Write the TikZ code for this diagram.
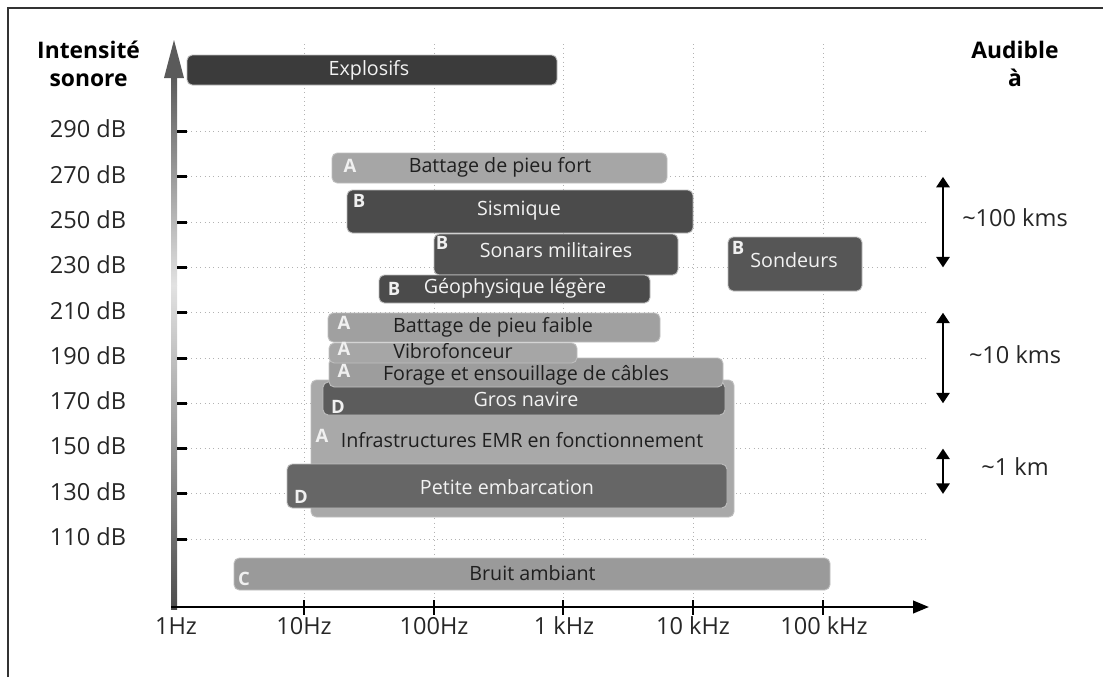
\documentclass[tikz,border=0pt]{standalone}
\usepackage{fontspec}
\setmainfont{Open Sans}
\usetikzlibrary{arrows.meta}
\definecolor{explosif}{HTML}{3B3B3B}
\definecolor{sombreA}{HTML}{4B4B4B}
\definecolor{sombreB}{HTML}{505050}
\definecolor{sombreC}{HTML}{565656}
\definecolor{navire}{HTML}{5C5C5C}
\definecolor{embarc}{HTML}{666666}
\definecolor{clairA}{HTML}{A6A6A6}
\definecolor{clairB}{HTML}{A0A0A0}
\definecolor{clairC}{HTML}{9D9D9D}
\definecolor{emr}{HTML}{A9A9A9}
\definecolor{bruit}{HTML}{9A9A9A}
\definecolor{axe}{HTML}{5A5A5A}
\definecolor{axeclair}{HTML}{E2E2E2}

\begin{document}
\begin{tikzpicture}[x=0.02cm, y=-0.02cm,
    barre/.style={rounded corners=3pt, draw=white!75!black, line width=0.5pt},
    texte/.style={font=\fontsize{11.2}{13}\selectfont, inner sep=0pt, text height=0.72em, text depth=0.1em},
    clair/.style={texte, text=black!88},
    sombre/.style={texte, text=white!95!black},
    lettre/.style={font=\bfseries\fontsize{10.5}{12}\selectfont, inner sep=0pt, text height=0.72em, text depth=0pt, text=white!94!black},
    echelle/.style={font=\fontsize{13.4}{16}\selectfont, inner sep=0pt, text height=0.72em, text depth=0pt, text=black!85},
    titre/.style={font=\bfseries\fontsize{13}{16}\selectfont, inner sep=0pt, align=center},
    grille/.style={gray!60, dotted, line width=0.5pt},
    fleche/.style={line width=1.6pt, {Triangle[length=6pt,width=7.5pt]}-{Triangle[length=6pt,width=7.5pt]}}]
    \useasboundingbox (0,0) rectangle (1103,677);
    \draw [black!80, line width=1.1pt] (8,677) -- (8,8) -- (1103,8);

    \draw [grille] (187,131.5) -- (928,131.5);
    \draw [grille] (187,176.8) -- (928,176.8);
    \draw [grille] (187,222.1) -- (928,222.1);
    \draw [grille] (187,267.4) -- (928,267.4);
    \draw [grille] (187,312.7) -- (928,312.7);
    \draw [grille] (187,358.0) -- (928,358.0);
    \draw [grille] (187,403.3) -- (928,403.3);
    \draw [grille] (187,448.6) -- (928,448.6);
    \draw [grille] (187,493.9) -- (928,493.9);
    \draw [grille] (187,539.2) -- (928,539.2);
    \draw [grille] (304,44) -- (304,607);
    \draw [grille] (434,44) -- (434,607);
    \draw [grille] (563,44) -- (563,607);
    \draw [grille] (693,44) -- (693,607);
    \draw [grille] (823,44) -- (823,607);

    \draw [barre, fill=explosif] (187,55) rectangle (557,85);
    \node [sombre] (explosifs) at (369,70) {Explosifs};
    \draw [barre, fill=clairA] (332,153) rectangle (667,183);
    \node [lettre] (tagfort) at (350,166) {A};
    \node [clair] (pieufort) at (500,167) {Battage de pieu fort};
    \draw [barre, fill=sombreA] (347,190) rectangle (693,233);
    \node [lettre] (tagsism) at (359,201) {B};
    \node [sombre] (sismique) at (519,210.5) {Sismique};
    \draw [barre, fill=sombreB] (434,234) rectangle (678,275);
    \node [lettre] (tagsonar) at (442,243) {B};
    \node [sombre] (sonars) at (556,252) {Sonars militaires};
    \draw [barre, fill=sombreA] (379,275) rectangle (650,303);
    \node [lettre] (taggeo) at (394,289) {B};
    \node [sombre] (geophysique) at (515,288) {Géophysique légère};
    \draw [barre, fill=sombreC] (728,237) rectangle (862,291);
    \node [lettre] (tagsond) at (738,248) {B};
    \node [sombre] (sondeurs) at (794,262) {Sondeurs};

    \draw [barre, fill=emr] (311,380) rectangle (734,517);
    \node [lettre] (tagemr) at (322,436) {A};
    \node [clair] (emrtexte) at (522,442) {Infrastructures EMR en fonctionnement};
    \draw [barre, fill=navire] (323,382) rectangle (725,415);
    \node [lettre] (tagnavire) at (338,407) {D};
    \node [sombre] (grosnavire) at (526,401) {Gros navire};
    \draw [barre, fill=embarc] (287,464) rectangle (727,508);
    \node [lettre] (tagpetite) at (301,497) {D};
    \node [sombre] (petite) at (507,489.5) {Petite embarcation};
    \draw [barre, fill=clairB] (328,313) rectangle (660,342);
    \node [lettre] (tagfaible) at (344,323) {A};
    \node [clair] (pieufaible) at (493,327) {Battage de pieu faible};
    \draw [barre, fill=clairC] (329,358) rectangle (723,387);
    \node [lettre] (tagforage) at (344,371) {A};
    \node [clair] (forage) at (526,375) {Forage et ensouillage de câbles};
    \draw [barre, fill=clairA] (329,343) rectangle (577,363);
    \node [lettre] (tagvibro) at (344,349) {A};
    \node [clair] (vibro) at (453,353.5) {Vibrofonceur};
    \draw [barre, fill=bruit] (234,558) rectangle (830,590);
    \node [lettre] (tagbruit) at (244,579) {C};
    \node [clair] (bruitambiant) at (532.5,575) {Bruit ambiant};

    \coordinate (origine) at (171,607);
    \coordinate (sommet) at (174,40);
    \coordinate (xfin) at (929,607);
    \shade [top color=axe, bottom color=axeclair] (171,76) rectangle (177,285);
    \shade [top color=axeclair, bottom color=axe!85!black] (171,285) rectangle (177,609);
    \fill [axe] (164,78) -- (sommet) -- (184,78) -- cycle;
    \draw [black, line width=1.5pt, -{Triangle[length=9pt,width=7pt]}] (origine) -- (xfin);

    \draw [line width=1.7pt] (177,131.5) -- (187,131.5);
    \draw [line width=1.7pt] (177,176.8) -- (187,176.8);
    \draw [line width=1.7pt] (177,222.1) -- (187,222.1);
    \draw [line width=1.7pt] (177,267.4) -- (187,267.4);
    \draw [line width=1.7pt] (177,312.7) -- (187,312.7);
    \draw [line width=1.7pt] (177,358.0) -- (187,358.0);
    \draw [line width=1.7pt] (177,403.3) -- (187,403.3);
    \draw [line width=1.7pt] (177,448.6) -- (187,448.6);
    \draw [line width=1.7pt] (177,493.9) -- (187,493.9);
    \draw [line width=1.7pt] (177,539.2) -- (187,539.2);
    \draw [line width=1.1pt] (304,600) -- (304,615);
    \draw [line width=1.1pt] (434,600) -- (434,615);
    \draw [line width=1.1pt] (563,600) -- (563,615);
    \draw [line width=1.1pt] (693,600) -- (693,615);
    \draw [line width=1.1pt] (823,600) -- (823,615);

    \node [echelle, anchor=east] (db290) at (126.5,131.5) {290 dB};
    \node [echelle, anchor=east] (db270) at (126.5,176.8) {270 dB};
    \node [echelle, anchor=east] (db250) at (126.5,222.1) {250 dB};
    \node [echelle, anchor=east] (db230) at (126.5,267.4) {230 dB};
    \node [echelle, anchor=east] (db210) at (126.5,312.7) {210 dB};
    \node [echelle, anchor=east] (db190) at (126.5,358.0) {190 dB};
    \node [echelle, anchor=east] (db170) at (126.5,403.3) {170 dB};
    \node [echelle, anchor=east] (db150) at (126.5,448.6) {150 dB};
    \node [echelle, anchor=east] (db130) at (126.5,493.9) {130 dB};
    \node [echelle, anchor=east] (db110) at (126.5,539.2) {110 dB};

    \node [echelle] (hz1) at (176,628) {1Hz};
    \node [echelle] (hz10) at (304,628) {10Hz};
    \node [echelle] (hz100) at (434,628) {100Hz};
    \node [echelle] (khz1) at (564,628) {1 kHz};
    \node [echelle] (khz10) at (693,628) {10 kHz};
    \node [echelle] (khz100) at (824,628) {100 kHz};

    \node [titre] (intensite) at (88.6,64) {Intensité\\sonore};
    \node [titre] (audible) at (1015,64) {Audible\\à};

    \coordinate (h100) at (943,176.8);
    \coordinate (b100) at (943,267.4);
    \coordinate (h10) at (943,312.7);
    \coordinate (b10) at (943,403.3);
    \coordinate (h1) at (943,448.6);
    \coordinate (b1) at (943,493.9);
    \draw [fleche] (h100) -- (b100);
    \draw [fleche] (h10) -- (b10);
    \draw [fleche] (h1) -- (b1);
    \node [echelle] (km100) at (1015,220) {\textasciitilde100 kms};
    \node [echelle] (km10) at (1015,357) {\textasciitilde10 kms};
    \node [echelle] (km1) at (1015,469) {\textasciitilde1 km};
\end{tikzpicture}
\end{document}
